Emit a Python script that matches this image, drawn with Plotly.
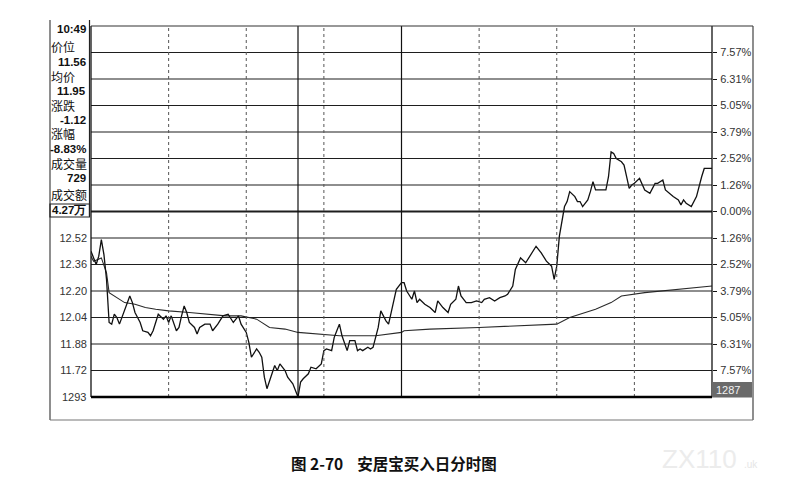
import plotly.graph_objects as go

# ---------------- data ----------------
prev_close = 12.68
price_minutes = [0, 2, 3, 4, 5, 6, 7, 8, 9, 10, 11, 13, 14, 15, 16, 17, 19, 20, 22, 23, 24, 26, 28, 29, 30, 31,
                 33, 34, 35, 36, 37, 38, 40, 41, 42, 44, 46, 47, 49, 51, 53, 55, 56, 57, 58, 60, 61, 62, 64, 65,
                 66, 67, 68, 70, 71, 72, 73, 75, 76, 78, 79, 80, 81, 82, 84, 85, 87, 89, 90, 91, 93, 94, 95, 96,
                 97, 98, 99, 100, 102, 103, 104, 105, 107, 108, 109, 111, 112, 114, 115, 116, 118, 120, 121, 122,
                 124, 125, 126, 127, 129, 131, 133, 134, 136, 138, 139, 141, 142, 143, 145, 147, 149, 151, 152,
                 154, 156, 158, 160, 161, 163, 164, 166, 168, 170, 172, 174, 176, 178, 179, 180, 181, 183, 184,
                 185, 187, 188, 189, 190, 192, 193, 194, 195, 197, 199, 200, 201, 202, 203, 205, 206, 207, 208,
                 209, 210, 212, 213, 214, 216, 218, 219, 221, 222, 224, 225, 227, 228, 229, 230, 232, 233, 234,
                 236, 237, 240]
price_values = [12.44, 12.36, 12.41, 12.51, 12.42, 12.27, 12.01, 12.00, 12.06, 12.04, 12.00, 12.09, 12.13, 12.17,
                12.13, 12.07, 12.01, 11.96, 11.95, 11.93, 11.96, 12.06, 12.03, 12.05, 12.01, 12.05, 11.96, 11.98,
                12.05, 12.11, 12.07, 12.01, 11.98, 11.94, 11.98, 12.00, 12.00, 11.96, 12.00, 12.05, 12.06, 12.01,
                12.03, 12.05, 12.00, 11.95, 11.89, 11.80, 11.85, 11.83, 11.80, 11.68, 11.61, 11.70, 11.75, 11.72,
                11.76, 11.72, 11.68, 11.64, 11.60, 11.56, 11.65, 11.67, 11.70, 11.74, 11.73, 11.76, 11.84, 11.85,
                11.84, 11.92, 11.96, 12.00, 11.93, 11.88, 11.84, 11.90, 11.90, 11.84, 11.85, 11.84, 11.86, 11.85,
                11.86, 11.98, 12.08, 12.02, 12.00, 12.07, 12.21, 12.25, 12.25, 12.20, 12.15, 12.20, 12.13, 12.15,
                12.12, 12.10, 12.07, 12.14, 12.10, 12.07, 12.12, 12.15, 12.23, 12.17, 12.13, 12.13, 12.14, 12.13,
                12.15, 12.16, 12.14, 12.16, 12.17, 12.18, 12.23, 12.33, 12.40, 12.37, 12.42, 12.47, 12.43, 12.38,
                12.35, 12.27, 12.35, 12.53, 12.71, 12.74, 12.80, 12.77, 12.74, 12.74, 12.71, 12.75, 12.80, 12.86,
                12.81, 12.81, 12.81, 12.89, 13.04, 13.03, 13.00, 12.98, 12.96, 12.89, 12.82, 12.84, 12.85, 12.88,
                12.84, 12.81, 12.79, 12.85, 12.85, 12.87, 12.81, 12.78, 12.77, 12.75, 12.72, 12.75, 12.73, 12.71,
                12.74, 12.77, 12.89, 12.94, 12.94]

avg_minutes = [0, 1, 4, 6, 7, 10, 13, 17, 21, 25, 30, 38, 44, 52, 58, 64, 69, 75, 80, 87, 96, 110, 115, 120, 121,
               131, 150, 169, 180, 185, 187, 195, 201, 205, 214, 227, 240]
avg_values = [12.41, 12.38, 12.40, 12.31, 12.19, 12.16, 12.13, 12.12, 12.10, 12.09, 12.08, 12.07, 12.06, 12.05,
              12.05, 12.03, 11.98, 11.97, 11.95, 11.94, 11.93, 11.93, 11.94, 11.95, 11.96, 11.97, 11.98, 11.99,
              12.00, 12.04, 12.05, 12.09, 12.13, 12.17, 12.19, 12.21, 12.23]

grid_prices = [13.64, 13.48, 13.32, 13.16, 13.00, 12.84, 12.68, 12.52, 12.36, 12.20, 12.04, 11.88, 11.72]
right_labels = ["7.57%", "6.31%", "5.05%", "3.79%", "2.52%", "1.26%", "0.00%",
                "1.26%", "2.52%", "3.79%", "5.05%", "6.31%", "7.57%"]
left_labels = ["", "", "", "", "", "", "", "12.52", "12.36", "12.20", "12.04", "11.88", "11.72"]
volume_label = "1293"
volume_box = "1287"
dotted_minutes = [30, 60, 90, 150, 180, 210]
midday_minute = 120
cursor_minute = 80

info_time = "10:49"
info_rows = [("价位", "11.56"), ("均价", "11.95"), ("涨跌", "-1.12"), ("涨幅", "-8.83%"),
             ("成交量", "729"), ("成交额", "4.27万")]
caption = "图 2-70    安居宝买入日分时图"

# ---------------- layout geometry (window pixels) ----------------
OFF = 8                      # page body margin
FW, FH = 785, 465            # figure size
L, R, T, B = 91, 712, 26, 397
y_lo, y_hi = 11.56, 13.80


def px(x):
    return (x - L) / (R - L)


def py(y):
    return (B - y) / (B - T)


fig = go.Figure()
fig.add_trace(go.Scatter(x=avg_minutes, y=avg_values, mode="lines",
                         line=dict(color="#2a2a2a", width=1.1), hoverinfo="skip"))
fig.add_trace(go.Scatter(x=price_minutes, y=price_values, mode="lines",
                         line=dict(color="#111111", width=1.3), hoverinfo="skip"))
fig.add_trace(go.Scatter(x=[0], y=[prev_close], yaxis="y2", mode="markers",
                         marker=dict(opacity=0), hoverinfo="skip"))

shapes = []
for gp in grid_prices:
    shapes.append(dict(type="line", xref="paper", yref="y", x0=0, x1=1, y0=gp, y1=gp,
                       line=dict(color="#1e1e1e", width=2 if gp == prev_close else 1.1)))
for m in dotted_minutes:
    shapes.append(dict(type="line", xref="x", yref="paper", x0=m, x1=m, y0=0, y1=1,
                       line=dict(color="#555555", width=1, dash="dot")))
for m in (midday_minute, cursor_minute):
    shapes.append(dict(type="line", xref="x", yref="paper", x0=m, x1=m, y0=0, y1=1,
                       line=dict(color="#111111", width=1.2)))
shapes.append(dict(type="line", xref="paper", yref="paper", x0=0, x1=0, y0=0, y1=1,
                   line=dict(color="#111", width=1.3)))
shapes.append(dict(type="line", xref="paper", yref="paper", x0=1, x1=1, y0=0, y1=1,
                   line=dict(color="#111", width=1.3)))
shapes.append(dict(type="line", xref="paper", yref="paper", x0=0, x1=px(753), y0=1, y1=1,
                   line=dict(color="#333", width=1.2)))
shapes.append(dict(type="line", xref="paper", yref="paper", x0=0, x1=1, y0=0, y1=0,
                   line=dict(color="#000", width=2.5)))
shapes.append(dict(type="line", xref="paper", yref="paper", x0=px(50), x1=px(50), y0=py(420), y1=py(20),
                   line=dict(color="#444", width=1.2)))
shapes.append(dict(type="line", xref="paper", yref="paper", x0=px(753), x1=px(753), y0=py(420), y1=1,
                   line=dict(color="#444", width=1.2)))
shapes.append(dict(type="line", xref="paper", yref="paper", x0=px(50), x1=px(753), y0=py(420), y1=py(420),
                   line=dict(color="#777", width=1.2)))
shapes.append(dict(type="line", xref="paper", yref="paper", x0=px(89.5), x1=px(89.5), y0=py(216), y1=py(20),
                   line=dict(color="#222", width=1.2)))
shapes.append(dict(type="rect", xref="paper", yref="paper", x0=px(50), x1=px(89.5), y0=py(217), y1=py(204),
                   line=dict(color="#222", width=1.2)))
shapes.append(dict(type="rect", xref="paper", yref="paper", x0=px(712), x1=px(752), y0=py(397.5), y1=py(382),
                   fillcolor="#6a6a6a", line=dict(width=0), layer="above"))
fig.update_layout(shapes=shapes)

ann = []
num_font = dict(family="Liberation Sans, Arial", size=11.5, color="#111")
cjk_font = dict(family="Noto Sans CJK SC", size=12, color="#111")
ann.append(dict(x=px(88), y=py(29), xref="paper", yref="paper", text="<b>" + info_time + "</b>",
                showarrow=False, xanchor="right", yanchor="middle", font=num_font))
row_y = [(46, 62), (76, 91), (105, 120), (134, 148.5), (163.5, 178), (195, 210)]
for (lab, val), (yl, yv) in zip(info_rows, row_y):
    ann.append(dict(x=px(49), y=py(yl), xref="paper", yref="paper", text=lab, showarrow=False,
                    xanchor="left", yanchor="middle", font=cjk_font))
    ann.append(dict(x=px(88), y=py(yv), xref="paper", yref="paper", text="<b>" + val + "</b>",
                    showarrow=False, xanchor="right", yanchor="middle", font=num_font))
ann.append(dict(x=px(88), y=0, xref="paper", yref="paper", text=volume_label, showarrow=False,
                xanchor="right", yanchor="middle", font=dict(family="Liberation Sans, Arial", size=11, color="#333")))
ann.append(dict(x=px(714), y=py(390), xref="paper", yref="paper", text=volume_box, showarrow=False,
                xanchor="left", yanchor="middle", font=dict(family="Liberation Sans, Arial", size=11, color="#f2f2f2")))
ann.append(dict(x=px(394), y=py(463), xref="paper", yref="paper", text="<b>" + caption + "</b>",
                showarrow=False, xanchor="center", yanchor="middle",
                font=dict(family="Noto Sans CJK SC", size=15.5, color="#111")))
ann.append(dict(x=px(660), y=py(459), xref="paper", yref="paper", text="ZX110", showarrow=False,
                xanchor="left", yanchor="middle",
                font=dict(family="Liberation Sans, Arial", size=26, color="#ececec")))
ann.append(dict(x=px(742), y=py(464), xref="paper", yref="paper", text=".uk", showarrow=False,
                xanchor="left", yanchor="middle",
                font=dict(family="Liberation Sans, Arial", size=10, color="#e6e6e6")))
fig.update_layout(annotations=ann)

fig.update_layout(
    width=FW, height=FH,
    margin=dict(l=L - OFF, r=OFF + FW - R, t=T - OFF, b=OFF + FH - B, pad=0),
    paper_bgcolor="white", plot_bgcolor="white",
    showlegend=False,
    xaxis=dict(range=[0, 240], showgrid=False, zeroline=False, showticklabels=False, ticks="",
               showline=False, fixedrange=True),
    yaxis=dict(range=[y_lo, y_hi], tickvals=grid_prices, ticktext=left_labels, showgrid=False,
               zeroline=False, ticks="", showline=False, ticklabelstandoff=3,
               tickfont=dict(family="Liberation Sans, Arial", size=11, color="#333")),
    yaxis2=dict(range=[y_lo, y_hi], overlaying="y", side="right", tickvals=grid_prices,
                ticktext=right_labels, showgrid=False, zeroline=False, ticks="outside", ticklen=4,
                tickcolor="#111", showline=False, ticklabelstandoff=1,
                tickfont=dict(family="Liberation Sans, Arial", size=11, color="#333")),
)

fig.write_html("out.html")
